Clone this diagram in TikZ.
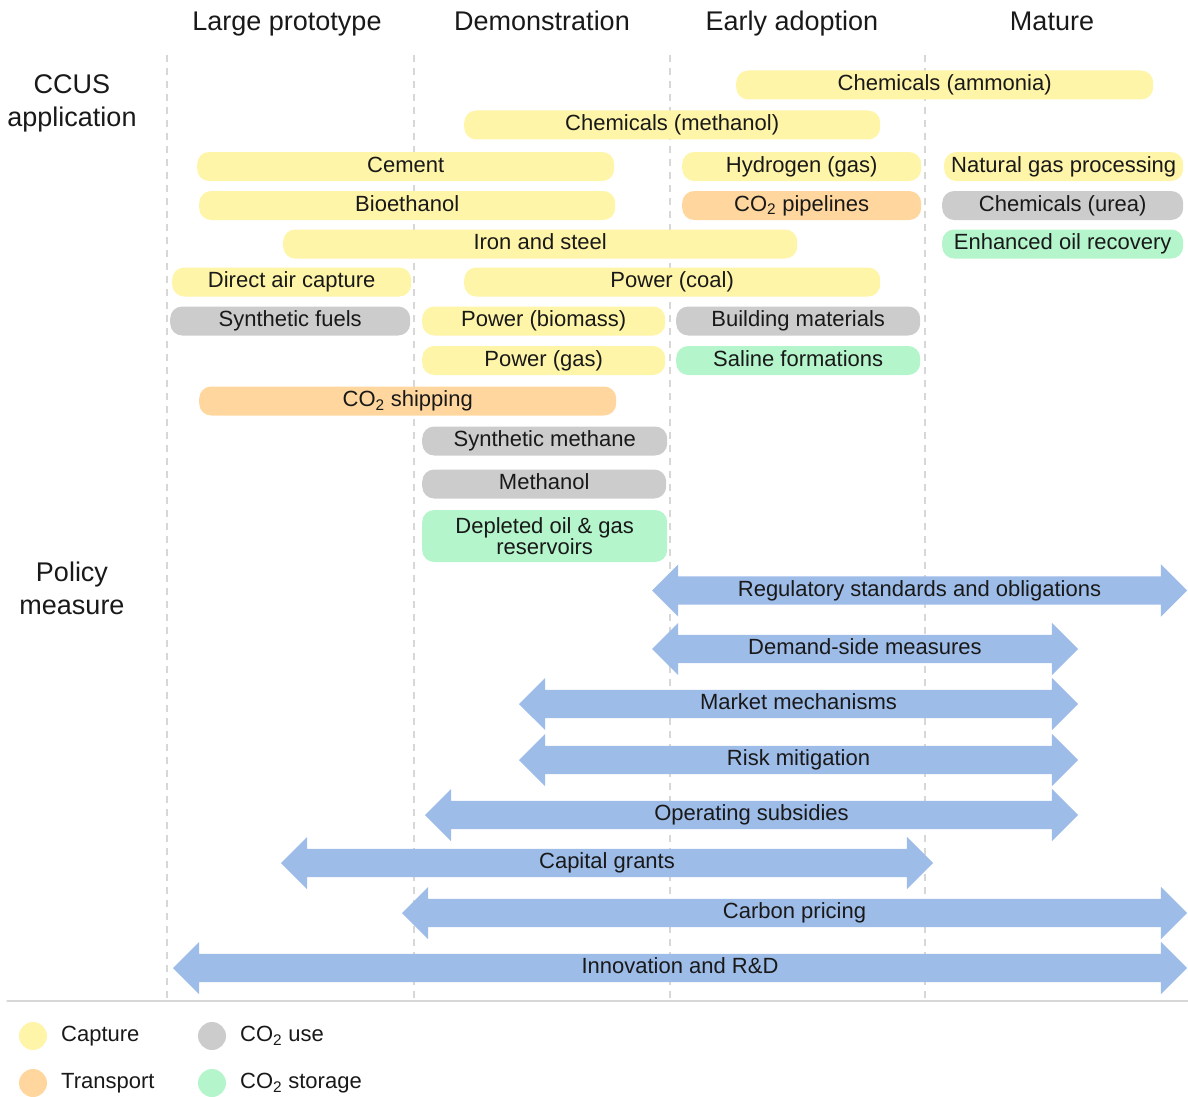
\documentclass[tikz,border=0pt]{standalone}
\usepackage{fontspec}
\setmainfont{Liberation Sans}
\usetikzlibrary{shapes.arrows}
\definecolor{txtgray}{RGB}{25,25,25}
\definecolor{linegray}{RGB}{215,215,215}
\definecolor{capfill}{RGB}{255,245,168}
\definecolor{trnfill}{RGB}{255,215,158}
\definecolor{usefill}{RGB}{204,204,204}
\definecolor{stofill}{RGB}{180,245,204}
\definecolor{arrfill}{RGB}{158,188,232}
\tikzset{
    lab/.style={
        font=\fontsize{27}{33}\selectfont, text=txtgray
    }
}

\begin{document}
\begin{tikzpicture}[x=1pt,y=-1pt, line cap=round, line join=round]

% bar + arrow styles
\tikzset{
  grid/.style={draw=linegray, line width=1.3pt, dash pattern=on 7pt off 6pt, line cap=butt},
  head/.style={lab, text height=20pt, text depth=6pt},
  bar/.style={rectangle, rounded corners=12pt, inner sep=0pt, minimum height=29pt, anchor=west, text height=16pt, text depth=5pt, text=txtgray, font=\fontsize{22}{21}\selectfont},
  capbar/.style={bar, fill=capfill},
  trnbar/.style={bar, fill=trnfill},
  usebar/.style={bar, fill=usefill},
  stobar/.style={bar, fill=stofill},
  parr/.style={double arrow, fill=arrfill, double arrow head extend=12pt, double arrow tip angle=90, inner xsep=0pt, inner ysep=3.5pt, text height=16pt, text depth=5pt, text=txtgray, font=\fontsize{22}{26}\selectfont},
  dot/.style={circle, minimum size=28pt, inner sep=0pt},
  leg/.style={anchor=west, inner sep=0pt, text height=16pt, text depth=5pt, text=txtgray, font=\fontsize{22}{26}\selectfont},
}

  \useasboundingbox (0,0) rectangle (1188,1097);

  % stage columns
  \foreach \x in {167,414,670,925}
    \draw[grid] (\x,55) -- (\x,1000);
  \draw[draw=linegray, line width=1.3pt] (7,1001) -- (1188,1001);

  % headers
  \node[head] (hlp) at (287,24) {Large prototype};
  \node[head] (hdem) at (542,24) {Demonstration};
  \node[head] (hea) at (792,24) {Early adoption};
  \node[head] (hmat) at (1052,24) {Mature};
  \node[lab, align=center] (ccus) at (72,103) {CCUS\\application};
  \node[lab, align=center] (policy) at (72,588) {Policy\\measure};

  % applications
  \node[capbar, minimum width=417pt] (ammo) at (736,85) {Chemicals (ammonia)};
  \node[capbar, minimum width=416pt] (meth) at (464,125) {Chemicals (methanol)};
  \node[capbar, minimum width=417pt] (cem) at (197,166.5) {Cement};
  \node[capbar, minimum width=239pt] (hyd) at (682,166.5) {Hydrogen (gas)};
  \node[capbar, minimum width=239pt] (ngp) at (944,166.5) {Natural gas processing};
  \node[capbar, minimum width=416pt] (bio) at (199,205.5) {Bioethanol};
  \node[trnbar, minimum width=239pt] (pipe) at (682,205.5) {CO\textsubscript{2} pipelines};
  \node[usebar, minimum width=241pt] (urea) at (942,205.5) {Chemicals (urea)};
  \node[capbar, minimum width=514pt] (iron) at (283,244) {Iron and steel};
  \node[stobar, minimum width=241pt] (eor) at (942,244) {Enhanced oil recovery};
  \node[capbar, minimum width=239pt] (dac) at (172,282) {Direct air capture};
  \node[capbar, minimum width=416pt] (coal) at (464,282) {Power (coal)};
  \node[usebar, minimum width=240pt] (sfuel) at (170,321) {Synthetic fuels};
  \node[capbar, minimum width=243pt] (biom) at (422,321) {Power (biomass)};
  \node[usebar, minimum width=244pt] (bmat) at (676,321) {Building materials};
  \node[capbar, minimum width=243pt] (pgas) at (422,360.5) {Power (gas)};
  \node[stobar, minimum width=244pt] (sal) at (676,360.5) {Saline formations};
  \node[trnbar, minimum width=417pt] (ship) at (199,401) {CO\textsubscript{2} shipping};
  \node[usebar, minimum width=245pt] (smeth) at (422,441) {Synthetic methane};
  \node[usebar, minimum width=244pt] (meoh) at (422,484) {Methanol};
  \node[stobar, minimum width=245pt, minimum height=52pt, text height=, text depth=, align=center] (depl) at (422,536) {Depleted oil \& gas\\reservoirs};

  % policy measures
  \node[parr, minimum height=535pt] (reg) at (919.5,590.5) {Regulatory standards and obligations};
  \node[parr, minimum height=426pt] (dem) at (865,649) {Demand-side measures};
  \node[parr, minimum height=559pt] (mkt) at (798.5,704) {Market mechanisms};
  \node[parr, minimum height=559pt] (risk) at (798.5,760) {Risk mitigation};
  \node[parr, minimum height=653pt] (opsub) at (751.5,815) {Operating subsidies};
  \node[parr, minimum height=652pt] (capg) at (607,863) {Capital grants};
  \node[parr, minimum height=785pt] (carb) at (794.5,913) {Carbon pricing};
  \node[parr, minimum height=1014pt] (innov) at (680,968) {Innovation and R\&D};

  % legend
  \node[dot, fill=capfill] (lcap) at (33,1036) {};
  \node[dot, fill=trnfill] (ltrn) at (33,1083) {};
  \node[dot, fill=usefill] (luse) at (212,1036) {};
  \node[dot, fill=stofill] (lsto) at (212,1083) {};
  \node[leg] (tcap) at (61,1036) {Capture};
  \node[leg] (ttrn) at (61,1083) {Transport};
  \node[leg] (tuse) at (240,1036) {CO\textsubscript{2} use};
  \node[leg] (tsto) at (240,1083) {CO\textsubscript{2} storage};

\end{tikzpicture}
\end{document}
